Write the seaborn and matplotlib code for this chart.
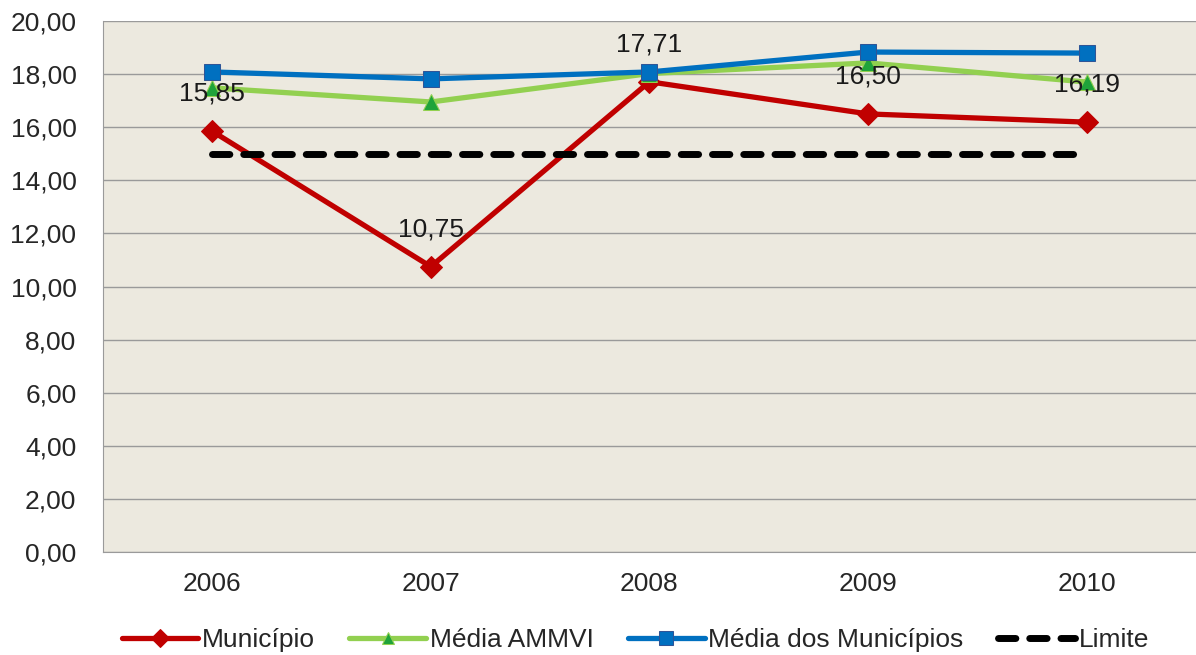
import pandas as pd
import matplotlib.pyplot as plt
import seaborn as sns

# -----------------------------------------------
# DADOS
# -----------------------------------------------
anos = ["2006", "2007", "2008", "2009", "2010"]
municipio = [15.85, 10.75, 17.71, 16.50, 16.19]
media_ammvi = [17.48, 16.95, 18.02, 18.42, 17.70]
media_municipios = [18.08, 17.82, 18.08, 18.83, 18.79]
limite = [15.0, 15.0, 15.0, 15.0, 15.0]
rotulos = ["15,85", "10,75", "17,71", "16,50", "16,19"]

df = pd.DataFrame({
    "Ano": anos,
    "Município": municipio,
    "Média AMMVI": media_ammvi,
    "Média dos Municípios": media_municipios,
    "Limite": limite,
})

# -----------------------------------------------
# GRÁFICO
# -----------------------------------------------
sns.set_style("white")
plt.rcParams["font.family"] = ["Liberation Sans", "DejaVu Sans"]

fig = plt.figure(figsize=(11.96, 6.55), dpi=100)
ax = fig.add_axes([0.086, 0.157, 0.914, 0.811])
ax.set_facecolor("#ECE9DF")

sns.lineplot(data=df, x="Ano", y="Município", ax=ax, color="#C00000",
             linewidth=3.8, marker="D", markersize=11, markeredgecolor="#C00000",
             label="Município")
sns.lineplot(data=df, x="Ano", y="Média AMMVI", ax=ax, color="#92D050",
             linewidth=3.8, marker="^", markersize=11, markerfacecolor="#1FA33A",
             markeredgecolor="#92D050", label="Média AMMVI")
sns.lineplot(data=df, x="Ano", y="Média dos Municípios", ax=ax, color="#0070C0",
             linewidth=3.8, marker="s", markersize=12, markerfacecolor="#0070C0",
             markeredgecolor="#2F5597", label="Média dos Municípios")
sns.lineplot(data=df, x="Ano", y="Limite", ax=ax, color="black",
             linewidth=5, dashes=(2.5, 2), label="Limite")
ax.lines[-1].set_dash_capstyle("round")

for i, txt in enumerate(rotulos):
    ax.annotate(txt, (i, municipio[i]), xytext=(0, 27), textcoords="offset points",
                ha="center", va="center", fontsize=19, color="#1a1a1a")

ax.set_xlim(-0.5, 4.5)
ax.set_ylim(0, 20)
ax.set_yticks(range(0, 21, 2))
ax.set_yticklabels([f"{v:.2f}".replace(".", ",") for v in range(0, 21, 2)])
ax.grid(axis="y", color="#9A9A9A", linewidth=1)
ax.set_axisbelow(True)
ax.tick_params(axis="y", labelsize=19, length=0, pad=19)
ax.tick_params(axis="x", labelsize=19, length=0, pad=14)
ax.set_xlabel("")
ax.set_ylabel("")
for lado in ["top", "right"]:
    ax.spines[lado].set_visible(False)
ax.spines["left"].set_color("#9A9A9A")
ax.spines["bottom"].set_color("#9A9A9A")

ax.legend(loc="center", bbox_to_anchor=(0.487, -0.166), ncol=4, frameon=False,
          fontsize=19, handlelength=2.9, handletextpad=0.15, columnspacing=1.3,
          markerscale=0.8)

plt.savefig("out.png", dpi=100)
